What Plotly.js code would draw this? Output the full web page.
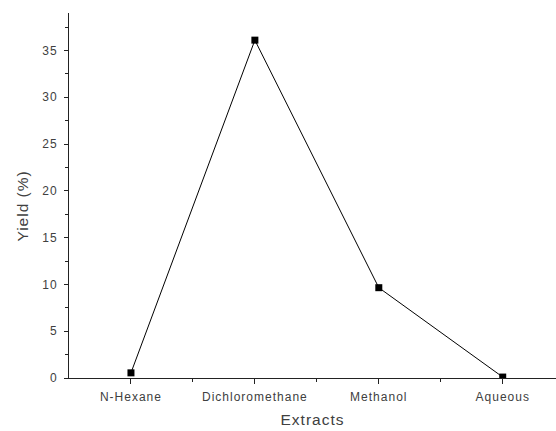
<!DOCTYPE html>
<html><head><meta charset="utf-8">
<script src="https://cdn.plot.ly/plotly-3.0.1.min.js"></script>
<style>
body{margin:0;background:#fff}#c{width:556px;height:431px}
#c .xtick text, #c .ytick text, #c .g-xtitle text, #c .annotation-text {letter-spacing: 1px;}
</style>
</head><body><div id="c"></div>
<script>
const categories = ["N-Hexane", "Dichloromethane", "Methanol", "Aqueous"];
const yieldPct = [0.55, 36.1, 9.65, 0.1];
const yTicks = [0, 5, 10, 15, 20, 25, 30, 35];
const xTitle = 'Extracts';
const yTitle = 'Yield (%)';

const xPos = categories.map((c, i) => i);

Plotly.newPlot('c', [{
  x: xPos, y: yieldPct, type: 'scatter', mode: 'lines+markers',
  line: {color: '#000', width: 1},
  marker: {symbol: 'square', size: 7, color: '#000'},
  hoverinfo: 'skip', showlegend: false
}], {
  width: 556, height: 431,
  margin: {l: 69, r: 0, t: 13, b: 53},
  paper_bgcolor: '#fff', plot_bgcolor: '#fff',
  font: {family: 'Liberation Sans, Arial, sans-serif', color: '#404040'},
  xaxis: {
    range: [-0.5, 3.43], tickvals: xPos, ticktext: categories,
    showgrid: false, zeroline: false, showline: true, linecolor: '#222', linewidth: 1,
    ticks: 'outside', ticklen: 5, tickcolor: '#222', tickwidth: 1,
    ticklabelstandoff: 3,
    tickfont: {size: 12, color: '#404040'},
    minor: {tickvals: [0.5, 1.5, 2.5], ticks: 'outside', ticklen: 3, tickcolor: '#222', showgrid: false},
    title: {text: xTitle, font: {size: 15.5, color: '#404040'}, standoff: 10}
  },
  yaxis: {
    range: [0, 39], tickvals: yTicks,
    showgrid: false, zeroline: false, showline: true, linecolor: '#222', linewidth: 1,
    ticks: 'outside', ticklen: 4, tickcolor: '#222', tickwidth: 1,
    ticklabelstandoff: 4,
    tickfont: {size: 12, color: '#404040'},
    minor: {dtick: 2.5, ticks: 'outside', ticklen: 3, tickcolor: '#222', showgrid: false}
  },
  annotations: [{
    text: yTitle, textangle: -90, showarrow: false,
    xref: 'paper', yref: 'paper', x: 0, y: 0.471, xanchor: 'center', yanchor: 'middle',
    xshift: -47, font: {size: 15.5, color: '#404040'}
  }]
}, {displayModeBar: false, staticPlot: true});
</script></body></html>
